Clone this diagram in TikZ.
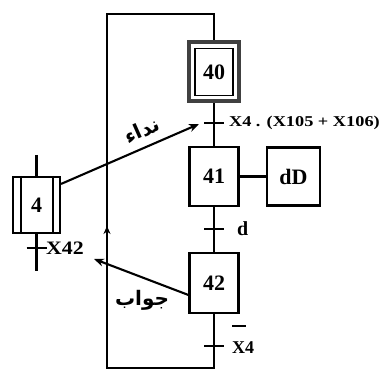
\documentclass[tikz,border=0pt]{standalone}
\usepackage{graphicx}
\usepackage{fontspec}
\setmainfont{Liberation Serif}
\newfontfamily\arabicfont[Script=Arabic]{DejaVu Sans}
\TeXXeTstate=1
\usetikzlibrary{arrows.meta}
\begin{document}
\begin{tikzpicture}[x=1pt,y=-1pt,line width=2.1pt,
  stepbox/.style={draw,inner sep=0pt,minimum width=49pt,minimum height=59pt,font=\fontsize{22}{22}\selectfont\bfseries},
  tick/.style={line width=2.2pt},
  lbl/.style={inner sep=0pt,anchor=west,font=\fontsize{20}{20}\selectfont\bfseries},
  arr/.style={-{Stealth[length=10pt,width=8pt]}},
  ar/.style={font=\arabicfont\bfseries\fontsize{20}{20}\selectfont,inner sep=0pt}]
\useasboundingbox (0,0) rectangle (381,371);
% initial step 40
\node[draw=black!75,line width=4pt,inner sep=0pt,minimum width=50pt,minimum height=59pt] (s40o) at (214,72) {};
\node[stepbox,line width=1.6pt,minimum width=38pt,minimum height=47pt] (s40) at (214,72) {40};
% steps
\node[stepbox] (s41) at (214,176.5) {41};
\node[stepbox,minimum width=53pt,minimum height=58pt] (dD) at (293.5,176.5) {dD};
\node[stepbox,minimum height=60pt] (s42) at (214,283) {42};
\draw (s41.east) -- (dD.west);
% transitions
\coordinate (t1) at (214,123);
\coordinate (t2) at (214,229);
\coordinate (t3) at (214,346);
\draw (s40o.south) -- (t1) -- (s41.north);
\draw (s41.south) -- (t2) -- (s42.north);
\draw[tick] ([xshift=-10pt]t1) -- ([xshift=10pt]t1);
\draw[tick] ([xshift=-10pt]t2) -- ([xshift=10pt]t2);
\draw[tick] ([xshift=-10pt]t3) -- ([xshift=10pt]t3);
\node[lbl,font=\fontsize{15}{15}\selectfont\bfseries] (l1) at (228,123) {\scalebox{1.22}[1]{X4 . (X105 + X106)}};
\node[lbl] (l2) at (236,229) {d};
\node[lbl,font=\fontsize{18}{18}\selectfont\bfseries] (l3) at (231,348) {X4};
\draw[line width=1.8pt] (232,326) -- (246,326);
% loop back
\coordinate (b) at (214,368);
\coordinate (bl) at (107,368);
\coordinate (ml) at (107,226);
\coordinate (tl) at (107,14);
\coordinate (tr) at (214,14);
\draw (s42.south) -- (t3) -- (b) -- (bl) -- (ml);
\draw[-{Stealth[length=8pt,width=7pt]}] (bl) -- (ml);
\draw (ml) -- (tl) -- (tr) -- (s40o.north);
% step 4
\node[stepbox,minimum width=47pt,minimum height=56pt] (s4) at (36.5,205) {4};
\draw ([xshift=9pt]s4.north west) -- ([xshift=9pt]s4.south west);
\draw ([xshift=-8pt]s4.north east) -- ([xshift=-8pt]s4.south east);
\coordinate (s4top) at (36.5,155);
\coordinate (s4bot) at (36.5,271);
\coordinate (t4) at (36.5,248);
\draw (s4top) -- (s4.north);
\draw (s4.south) -- (s4bot);
\draw[tick] ([xshift=-10pt]t4) -- ([xshift=10pt]t4);
\node[lbl,font=\fontsize{19}{19}\selectfont\bfseries] (l4) at (45,248) {\scalebox{1.15}[1]{X42}};
% messages
\coordinate (a1) at (199,124);
\coordinate (a2) at (94,259);
\draw[arr] ([yshift=-8pt]s4.north east) -- (a1);
\node[ar,rotate=24] (nida) at (142,130) {\beginR نداء\endR};
\draw[arr] ([yshift=-12pt]s42.west) -- (a2);
\node[ar] (jawab) at (142,300) {\beginR جواب\endR};
\end{tikzpicture}
\end{document}
